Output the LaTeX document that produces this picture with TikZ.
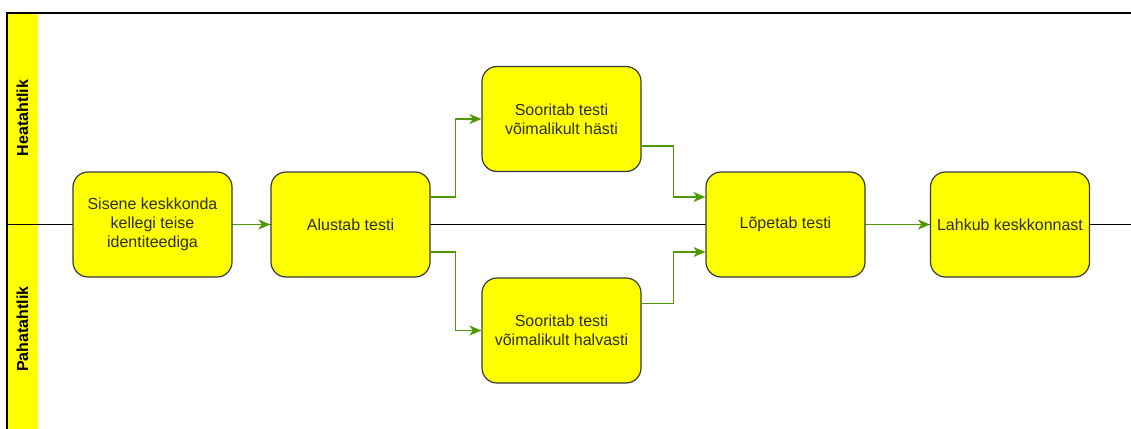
\documentclass[tikz,border=0pt]{standalone}
\usepackage{fontspec}
\setmainfont{Liberation Sans}
\usetikzlibrary{arrows.meta}
\definecolor{flowgreen}{HTML}{4D9900}
\definecolor{boxstroke}{HTML}{36393D}
\definecolor{txtcol}{HTML}{2E2E1A}
\definecolor{laneyellow}{HTML}{FFFF00}
\begin{document}
\begin{tikzpicture}[x=1pt,y=-1pt,
  stepbox/.style={draw=boxstroke, fill=laneyellow, line width=1.2pt, rounded corners=15pt,
    minimum width=159pt, minimum height=105pt, align=center,
    font=\fontsize{16pt}{19pt}\selectfont, text=txtcol, inner sep=0pt},
  flow/.style={draw=flowgreen, line width=1.3pt, -{Stealth[length=12pt,width=10pt,inset=3.5pt]}},
  lanelabel/.style={rotate=90, font=\bfseries\fontsize{16pt}{19pt}\selectfont, text=black},
  frameline/.style={draw=black, line width=1.3pt}]
\useasboundingbox (0,0) rectangle (1131,428);
% lane header strip and frame
\fill[laneyellow] (7,13) rectangle (38,430);
\draw[frameline] (7,430) -- (7,13) -- (1133,13);
\draw[frameline] (7,224.5) -- (1133,224.5);
\node[lanelabel] (lh) at (22.5,118) {Heatahtlik};
\node[lanelabel] (lp) at (22.5,329) {Pahatahtlik};
% steps
\node[stepbox] (n1) at (152.5,224.5) {Sisene keskkonda\\kellegi teise\\identiteediga};
\node[stepbox] (n2) at (350.5,224.5) {Alustab testi};
\node[stepbox] (n3) at (561.5,119) {Sooritab testi\\võimalikult hästi};
\node[stepbox] (n4) at (561.5,330.5) {Sooritab testi\\võimalikult halvasti};
\node[stepbox] (n5) at (785.5,224.5) {Lõpetab testi};
\node[stepbox] (n6) at (1010,224.5) {Lahkub keskkonnast};
% connectors
\draw[flow] (n1.east) -- (n2.west);
\draw[flow] ([yshift=27.5pt]n2.east) -- ++(25,0) |- (n3.west);
\draw[flow] ([yshift=-27.5pt]n2.east) -- ++(25,0) |- (n4.west);
\draw[flow] ([yshift=-27pt]n3.east) -- ++(32,0) |- ([yshift=27.5pt]n5.west);
\draw[flow] ([yshift=27pt]n4.east) -- ++(32,0) |- ([yshift=-27.5pt]n5.west);
\draw[flow] (n5.east) -- (n6.west);
\end{tikzpicture}
\end{document}
